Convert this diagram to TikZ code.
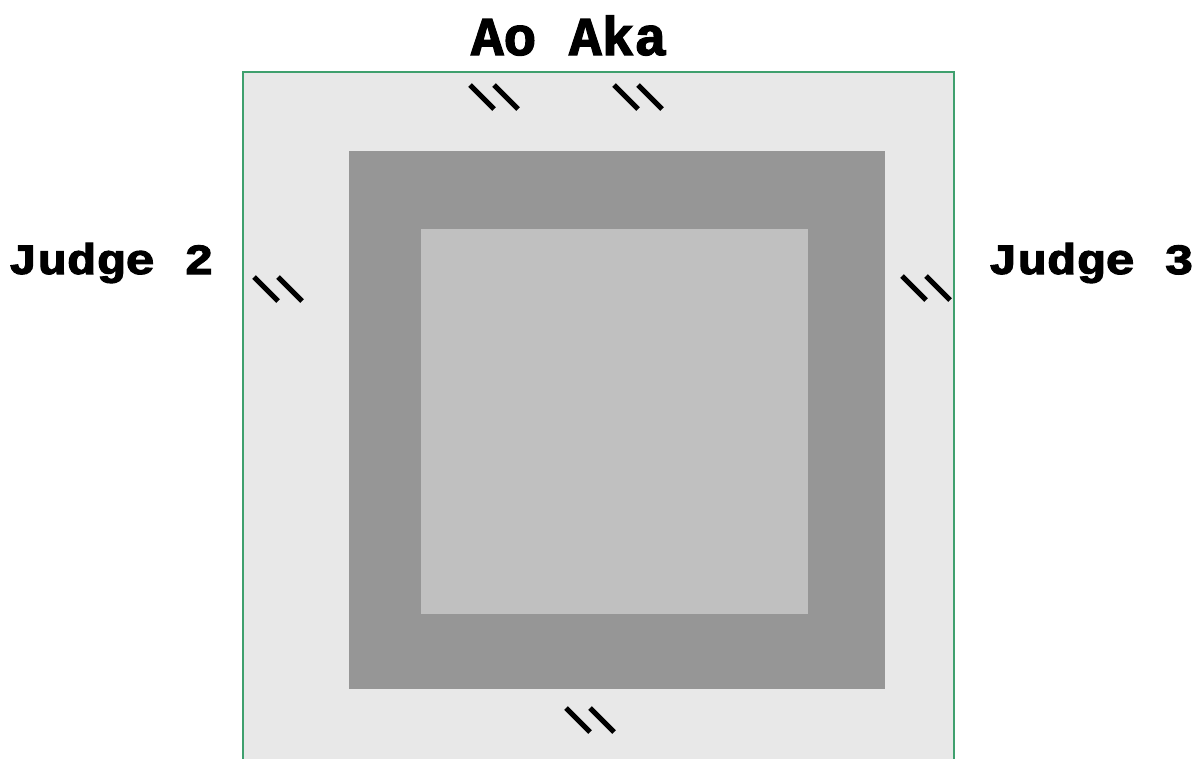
\documentclass[tikz,border=0pt]{standalone}
\usepackage{fontspec}
\setmonofont{Liberation Mono}[BoldFeatures={FakeBold=2.4}]
\usetikzlibrary{positioning}
\definecolor{ringgreen}{HTML}{3FA06E}
\definecolor{ringout}{HTML}{E8E8E8}
\definecolor{ringmid}{HTML}{969696}
\definecolor{ringin}{HTML}{C0C0C0}

\begin{document}
\begin{tikzpicture}[x=0.02cm,y=-0.02cm,
   title/.style={font=\ttfamily\bfseries\fontsize{31}{31}\selectfont,
                 inner sep=0pt},
   judge/.style={font=\ttfamily\bfseries\fontsize{27.8}{28}\selectfont,
                 inner sep=0pt},
   flag/.style={line width=3pt,black}]
  \path[use as bounding box,clip] (0,0) rectangle (1203,758);
  % mat areas
  \fill[ringout,draw=ringgreen,line width=1.2pt] (243,72) rectangle (954,780);
  \fill[ringmid] (349,151) rectangle (885,689);
  \fill[ringin] (421,229) rectangle (808,614);
  % labels
  \node[title,anchor=base] (aoaka) at (569,55) {Ao Aka};
  \node[judge,anchor=base west] (judge2) at (8,274) {\scalebox{1}[0.88]{Judge 2}};
  \node[judge,anchor=base west] (judge3) at (988,274) {\scalebox{1}[0.88]{Judge 3}};
  % judge flags
  \foreach \cx/\cy in {494/97,638/97,278/289,926/288,590/720}{
    \draw[flag] (\cx-24,\cy-12) -- (\cx,\cy+12);
    \draw[flag] (\cx,\cy-12) -- (\cx+24,\cy+12);
  }
\end{tikzpicture}
\end{document}
